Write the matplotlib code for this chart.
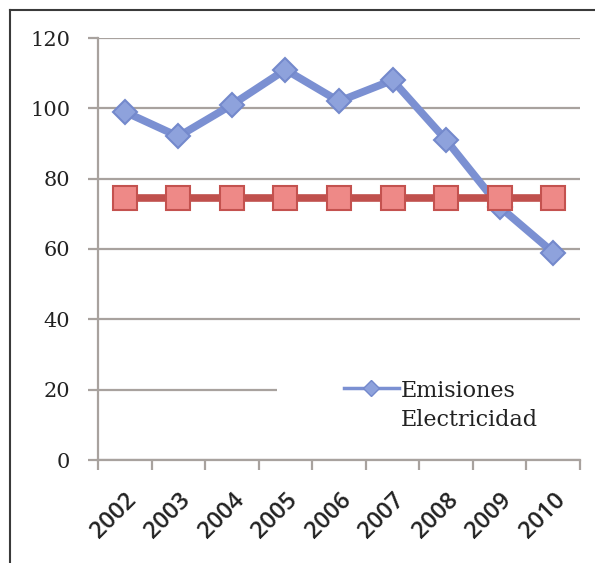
import matplotlib
matplotlib.use("Agg")
import matplotlib.pyplot as plt
from matplotlib.patches import Rectangle
from matplotlib.lines import Line2D
from matplotlib.legend_handler import HandlerLine2D
import matplotlib.transforms as mtransforms

years = ["2002", "2003", "2004", "2005", "2006", "2007", "2008", "2009", "2010"]
emisiones = [99, 92, 101, 111, 102, 108, 91, 72, 59]
objetivo = [74.5, 74.5, 74.5, 74.5, 74.5, 74.5, 74.5, 74.5, 74.5]
y_ticks = [0, 20, 40, 60, 80, 100, 120]

GRID = "#a8a29e"
TEXT = "#222222"


class TopAlignedLine(HandlerLine2D):
    """Legend handle raised to sit beside the first line of a two-line label."""

    def __init__(self, lift, **kw):
        super().__init__(**kw)
        self.lift = lift

    def create_artists(self, legend, orig_handle, xdescent, ydescent,
                       width, height, fontsize, trans):
        artists = super().create_artists(legend, orig_handle, xdescent, ydescent,
                                         width, height, fontsize, trans)
        for a in artists:
            a.set_ydata([y + self.lift for y in a.get_ydata()])
        return artists


fig = plt.figure(figsize=(5.95, 5.63), dpi=100)
fig.patch.set_facecolor("white")

# outer frame lines (top and left)
fig.add_artist(Line2D([10 / 595, 1.0], [1 - 10 / 563, 1 - 10 / 563],
                      transform=fig.transFigure, color="#3a3a3a", lw=1.5))
fig.add_artist(Line2D([10 / 595, 10 / 595], [0.0, 1 - 10 / 563],
                      transform=fig.transFigure, color="#3a3a3a", lw=1.5))

ax = fig.add_axes([98 / 595, 1 - 460 / 563, (580 - 98) / 595, (460 - 38) / 563])
ax.set_facecolor("white")

x = list(range(len(years)))

ax.plot(x, objetivo, color="#c0504d", lw=5.5, marker="s", markersize=17,
        markerfacecolor="#ee8987", markeredgecolor="#c4524f", markeredgewidth=1.5,
        zorder=4, solid_capstyle="butt")
ax.plot(x, emisiones, color="#7b90d2", lw=5.5, marker="D", markersize=12.5,
        markerfacecolor="#8ea2dc", markeredgecolor="#7489cc",
        markeredgewidth=1.5, zorder=3, solid_joinstyle="round")

ax.set_xlim(-0.5, len(years) - 0.5)
ax.set_ylim(0, 120)
ax.set_yticks(y_ticks)
ax.set_yticklabels([str(v) for v in y_ticks], family="DejaVu Serif",
                   fontsize=15, color=TEXT)
ax.yaxis.grid(True, color=GRID, lw=1.6)
ax.set_axisbelow(True)

ax.set_xticks(x)
ax.set_xticklabels(years, rotation=45, ha="right", va="top",
                   rotation_mode="anchor", family=["Open Sans", "DejaVu Sans"],
                   fontsize=17, fontweight="semibold", color=TEXT)
shift = mtransforms.ScaledTranslation(9 / 100, 0, fig.dpi_scale_trans)
for lbl in ax.get_xticklabels():
    lbl.set_transform(lbl.get_transform() + shift)
ax.set_xticks([i - 0.5 for i in range(len(years) + 1)], minor=True)
ax.tick_params(axis="x", which="major", length=0, pad=20)
ax.tick_params(axis="x", which="minor", length=7, width=1.6, color=GRID)
ax.tick_params(axis="y", length=7, width=1.6, color=GRID, pad=13)

for side in ["top", "right"]:
    ax.spines[side].set_visible(False)
for side in ["left", "bottom"]:
    ax.spines[side].set_color(GRID)
    ax.spines[side].set_linewidth(1.6)

# legend background panel
ax.add_patch(Rectangle((0.371, 0.03), 0.629, 0.22, transform=ax.transAxes,
                       facecolor="white", edgecolor="none", zorder=2))
legend_handle = Line2D([], [], color="#7b90d2", lw=2.5, marker="D", markersize=8,
                       markerfacecolor="#8ea2dc", markeredgecolor="#7489cc")
leg = ax.legend([legend_handle], ["Emisiones\nElectricidad"],
                loc="center left", bbox_to_anchor=(0.469, 0.13), frameon=False,
                handlelength=2.45, handletextpad=0.1,
                handler_map={legend_handle: TopAlignedLine(lift=13)},
                prop={"family": "DejaVu Serif", "size": 16})
for t in leg.get_texts():
    t.set_color(TEXT)
    t.set_linespacing(1.4)

fig.savefig("out.png", dpi=100)
